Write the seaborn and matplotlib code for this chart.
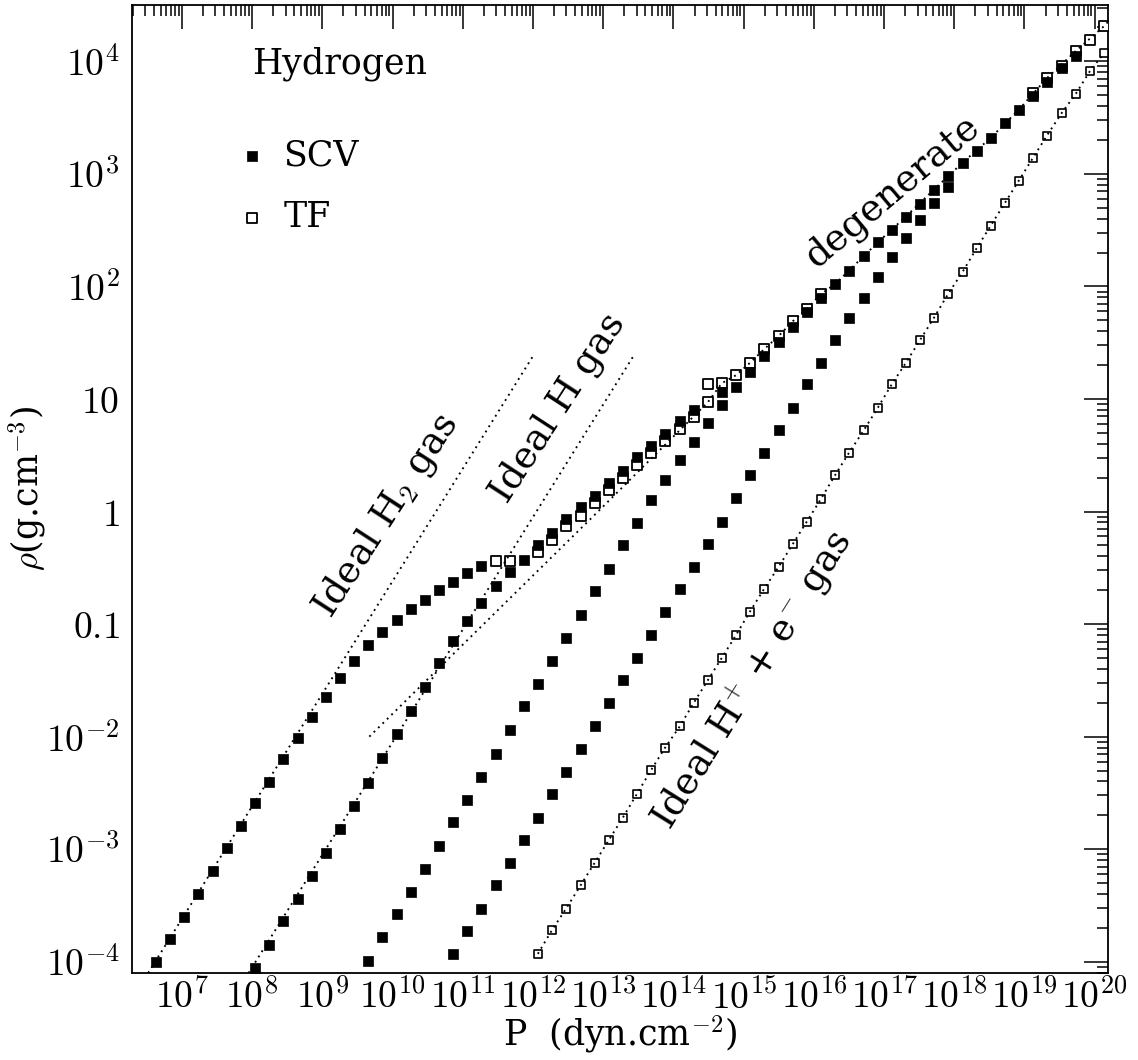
import numpy as np
import pandas as pd
import matplotlib
matplotlib.use("Agg")
import matplotlib.pyplot as plt
from matplotlib.ticker import FixedLocator, FixedFormatter, LogLocator, NullFormatter
import seaborn as sns

# ---------------- data (log10 P [dyn cm^-2], log10 rho [g cm^-3]) ----------------
# SCV isotherm A (filled squares, on the ideal H2 line)
scv_a_logP = [6.63, 6.83, 7.03, 7.23, 7.44, 7.64, 7.84, 8.04, 8.24, 8.44, 8.65, 8.85,
              9.05, 9.25, 9.45, 9.65, 9.85, 10.06, 10.26, 10.46, 10.66, 10.86, 11.06, 11.26]
scv_a_logrho = [-4.00, -3.80, -3.60, -3.40, -3.19, -2.99, -2.79, -2.59, -2.40, -2.20, -2.01, -1.83,
                -1.65, -1.48, -1.33, -1.19, -1.07, -0.96, -0.87, -0.79, -0.70, -0.63, -0.55, -0.48]

# SCV isotherm B (filled, on the ideal H line, then the dense/degenerate branch)
scv_b_logP = [8.04, 8.24, 8.44, 8.65, 8.85, 9.05, 9.25, 9.45, 9.65, 9.85, 10.06, 10.26,
              10.46, 10.66, 10.86, 11.06, 11.26, 11.47, 11.67, 11.87, 12.07, 12.27, 12.47, 12.68,
              12.88, 13.08, 13.28, 13.48, 13.68, 13.88, 14.09, 14.29, 14.69, 14.89, 15.09, 15.29,
              15.50, 15.70, 15.90, 16.10, 16.30, 16.50, 16.71, 16.91, 17.11, 17.31, 17.51, 17.71,
              17.91, 18.12, 18.32, 18.52, 18.72, 18.92, 19.12, 19.32, 19.53, 19.73]
scv_b_logrho = [-4.06, -3.85, -3.64, -3.44, -3.24, -3.03, -2.82, -2.62, -2.41, -2.19, -1.98, -1.77,
                -1.56, -1.35, -1.15, -0.97, -0.81, -0.66, -0.54, -0.43, -0.30, -0.19, -0.07, 0.04,
                0.14, 0.25, 0.36, 0.48, 0.58, 0.69, 0.80, 0.90, 1.06, 1.11, 1.24, 1.38,
                1.51, 1.64, 1.77, 1.90, 2.02, 2.14, 2.27, 2.39, 2.50, 2.62, 2.73, 2.86,
                2.98, 3.10, 3.20, 3.32, 3.45, 3.57, 3.69, 3.82, 3.94, 4.05]

# SCV isotherm C (filled)
scv_c_logP = [9.65, 9.85, 10.06, 10.26, 10.46, 10.66, 10.86, 11.06, 11.26, 11.47, 11.67, 11.87,
              12.07, 12.27, 12.47, 12.68, 12.88, 13.08, 13.28, 13.48, 13.68, 13.88, 14.09, 14.29,
              14.49, 14.69]
scv_c_logrho = [-3.99, -3.78, -3.58, -3.38, -3.18, -2.97, -2.76, -2.56, -2.36, -2.15, -1.94, -1.73,
                -1.53, -1.33, -1.12, -0.92, -0.71, -0.51, -0.30, -0.10, 0.10, 0.28, 0.46, 0.62,
                0.79, 0.95]

# SCV isotherm D (filled)
scv_d_logP = [10.86, 11.06, 11.26, 11.47, 11.67, 11.87, 12.07, 12.27, 12.47, 12.68, 12.88, 13.08,
              13.28, 13.48, 13.68, 13.88, 14.09, 14.29, 14.49, 14.69, 14.89, 15.09, 15.29, 15.50,
              15.70, 15.90, 16.10, 16.30, 16.50, 16.71, 16.91, 17.11, 17.31, 17.51, 17.71, 17.91]
scv_d_logrho = [-3.93, -3.73, -3.53, -3.32, -3.12, -2.92, -2.72, -2.51, -2.31, -2.11, -1.91, -1.70,
                -1.50, -1.30, -1.10, -0.89, -0.69, -0.49, -0.29, -0.09, 0.12, 0.32, 0.52, 0.72,
                0.92, 1.13, 1.32, 1.52, 1.72, 1.90, 2.08, 2.26, 2.43, 2.59, 2.74, 2.88]

# TF, hottest isotherm (open squares, ideal H+ + e- gas)
tf_e_logP = [12.07, 12.27, 12.47, 12.68, 12.88, 13.08, 13.28, 13.48, 13.68, 13.88, 14.09, 14.29,
             14.49, 14.69, 14.89, 15.09, 15.29, 15.50, 15.70, 15.90, 16.10, 16.30, 16.50, 16.71,
             16.91, 17.11, 17.31, 17.51, 17.71, 17.91, 18.12, 18.32, 18.52, 18.72, 18.92, 19.12,
             19.32, 19.53, 19.73, 19.93, 20.13]
tf_e_logrho = [-3.93, -3.72, -3.53, -3.32, -3.12, -2.92, -2.72, -2.51, -2.30, -2.10, -1.91, -1.70,
               -1.50, -1.30, -1.10, -0.89, -0.69, -0.49, -0.29, -0.09, 0.11, 0.32, 0.52, 0.72,
               0.92, 1.13, 1.32, 1.52, 1.72, 1.93, 2.13, 2.34, 2.54, 2.74, 2.94, 3.14,
               3.34, 3.54, 3.71, 3.91, 4.07]

# TF, cold isotherms near the dense branch (open squares)
tf_low_logP = [11.47, 11.67, 12.07, 12.27, 12.47, 12.68, 12.88, 13.08, 13.28, 13.48, 13.68, 13.88,
               14.09, 14.29, 14.49]
tf_low_logrho = [-0.44, -0.44, -0.36, -0.25, -0.13, -0.04, 0.08, 0.19, 0.30, 0.41, 0.52, 0.63,
                 0.73, 0.84, 0.97]
tf_high_logP = [14.49, 14.69, 14.89, 15.09, 15.29, 15.50, 15.70, 15.90, 16.10,
                19.12, 19.32, 19.53, 19.73, 19.93, 20.13]
tf_high_logrho = [1.13, 1.14, 1.21, 1.32, 1.44, 1.56, 1.69, 1.80, 1.93,
                  3.72, 3.85, 3.96, 4.09, 4.19, 4.31]

# dotted reference lines
h2_line_logP = [6.52, 12.01]
h2_line_logrho = [-4.10, 1.39]
h_line_logP = [7.95, 13.45]
h_line_logrho = [-4.10, 1.40]
tf_line_logP = [9.67, 12.96, 14.49, 14.69, 14.89, 15.09, 15.29, 15.50, 15.70, 15.90, 16.10,
                16.30, 16.50, 16.91, 17.31, 17.71, 18.12, 18.52, 18.92, 19.32, 19.73, 20.13, 20.19]
tf_line_logrho = [-2.00, 0.02, 0.97, 1.14, 1.21, 1.32, 1.44, 1.56, 1.69, 1.80, 1.93,
                  2.02, 2.14, 2.39, 2.62, 2.86, 3.10, 3.32, 3.57, 3.85, 4.09, 4.31, 4.35]

x_major_exp = list(range(7, 21))
y_major_exp = list(range(-4, 5))
y_tick_labels = [r"$10^{-4}$", r"$10^{-3}$", r"$10^{-2}$", r"$0.1$", r"$1$", r"$10$",
                 r"$10^{2}$", r"$10^{3}$", r"$10^{4}$"]

# ---------------- style ----------------
sns.set_theme(style="white")
plt.rcParams["font.family"] = ["DejaVu Serif"]
plt.rcParams["mathtext.fontset"] = "cm"
plt.rcParams["text.color"] = "black"
plt.rcParams["axes.labelcolor"] = "black"
plt.rcParams["xtick.color"] = "black"
plt.rcParams["ytick.color"] = "black"


def frame(lp, lr):
    return pd.DataFrame({"P": np.power(10.0, lp), "rho": np.power(10.0, lr)})


W, H = 1138, 1060
fig = plt.figure(figsize=(W / 100, H / 100), dpi=100)
ax = fig.add_axes([132 / W, 1 - 973 / H, (1108 - 132) / W, (973 - 5) / H])
ax.set_xscale("log")
ax.set_yscale("log")

dot = (0, (1.0, 2.3))
for lp, lr in [(h2_line_logP, h2_line_logrho), (h_line_logP, h_line_logrho),
               (tf_line_logP, tf_line_logrho), (tf_e_logP, tf_e_logrho)]:
    sns.lineplot(data=frame(lp, lr), x="P", y="rho", sort=False, estimator=None,
                 color="black", lw=1.35, linestyle=dot, ax=ax, zorder=6, legend=False)

# TF open squares (drawn below SCV)
sns.scatterplot(data=frame(tf_low_logP, tf_low_logrho), x="P", y="rho", marker="s", s=58,
                color="white", edgecolor="black", linewidth=1.3, ax=ax, zorder=3, legend=False)
h_tf = ax.collections[-1]
sns.scatterplot(data=frame(tf_high_logP, tf_high_logrho), x="P", y="rho", marker="s", s=58,
                color="white", edgecolor="black", linewidth=1.3, ax=ax, zorder=3, legend=False)
sns.scatterplot(data=frame(tf_e_logP, tf_e_logrho), x="P", y="rho", marker="s", s=40,
                color="white", edgecolor="black", linewidth=1.2, ax=ax, zorder=3, legend=False)

# SCV filled squares
h_scv = None
for lp, lr in [(scv_a_logP, scv_a_logrho), (scv_b_logP, scv_b_logrho),
               (scv_c_logP, scv_c_logrho), (scv_d_logP, scv_d_logrho)]:
    sns.scatterplot(data=frame(lp, lr), x="P", y="rho", marker="s", s=58,
                    color="black", edgecolor="black", linewidth=0.5, ax=ax, zorder=4, legend=False)
    if h_scv is None:
        h_scv = ax.collections[-1]

ax.set_xlim(10 ** 6.29, 10 ** 20.19)
ax.set_ylim(10 ** -4.1, 10 ** 4.5)

ax.xaxis.set_major_locator(FixedLocator([10.0 ** k for k in x_major_exp]))
ax.xaxis.set_major_formatter(FixedFormatter([r"$10^{%d}$" % k for k in x_major_exp]))
ax.yaxis.set_major_locator(FixedLocator([10.0 ** k for k in y_major_exp]))
ax.yaxis.set_major_formatter(FixedFormatter(y_tick_labels))
for axis in (ax.xaxis, ax.yaxis):
    axis.set_minor_locator(LogLocator(base=10, subs=np.arange(2, 10), numticks=100))
    axis.set_minor_formatter(NullFormatter())

ax.tick_params(which="both", direction="in", top=True, right=True, color="black",
               width=1.1, labelcolor="black")
ax.tick_params(which="major", length=17)
ax.tick_params(which="minor", length=8)
ax.tick_params(axis="x", which="major", labelsize=27, pad=5)
ax.tick_params(axis="y", which="major", labelsize=27, pad=9)
for sp in ax.spines.values():
    sp.set_linewidth(1.3)
    sp.set_color("black")
    sp.set_visible(True)

ax.set_xlabel(r"P  (dyn.cm$^{-2}$)", fontsize=25, labelpad=-3, color="black")
ax.set_ylabel(r"$\rho$(g.cm$^{-3}$)", fontsize=25, labelpad=-2, color="black")

# annotations
ax.text(10 ** 8.0, 10 ** 3.89, "Hydrogen", fontsize=25, ha="left", va="baseline", color="black")
ax.text(10 ** 9.91, 10 ** -0.04, r"Ideal H$_2$ gas", fontsize=27, rotation=57,
        rotation_mode="anchor", ha="center", va="center", color="black")
ax.text(10 ** 12.36, 10 ** 0.92, "Ideal H gas", fontsize=27, rotation=57,
        rotation_mode="anchor", ha="center", va="center", color="black")
ax.text(10 ** 17.12, 10 ** 2.84, "degenerate", fontsize=27, rotation=40,
        rotation_mode="anchor", ha="center", va="center", color="black")
ax.text(10 ** 15.12, 10 ** -1.50, r"Ideal H$^{+}$ + e$^{-}$ gas", fontsize=27, rotation=58,
        rotation_mode="anchor", ha="center", va="center", color="black")

leg = ax.legend(handles=[h_scv, h_tf], labels=["SCV", "TF"], loc="center left",
                bbox_to_anchor=(241.7 / W, 1 - 186.4 / H), bbox_transform=fig.transFigure,
                frameon=False, fontsize=25, handlelength=0.6, handletextpad=0.6,
                labelspacing=0.8, borderpad=0, borderaxespad=0, scatterpoints=1)
for t in leg.get_texts():
    t.set_color("black")

fig.savefig("out.png", dpi=100)
